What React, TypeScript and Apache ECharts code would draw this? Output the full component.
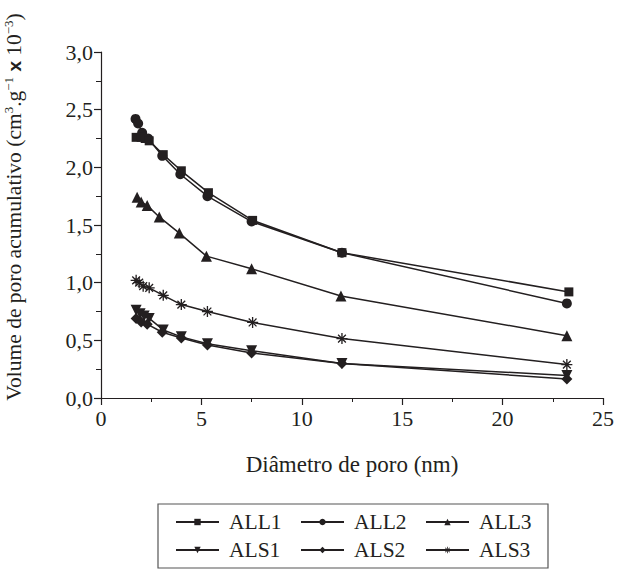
import React, { useEffect, useRef } from "react";
import * as echarts from "echarts";

const xTicks = [0, 5, 10, 15, 20, 25];
const yTicks = [0, 0.5, 1.0, 1.5, 2.0, 2.5, 3.0];

const legendRow1 = ["ALL1", "ALL2", "ALL3"];
const legendRow2 = ["ALS1", "ALS2", "ALS3"];

const all1X = [1.75, 2.0, 2.2, 2.4, 3.1, 4.0, 5.35, 7.55, 12.0, 23.3];
const all1Y = [2.26, 2.26, 2.25, 2.23, 2.11, 1.97, 1.78, 1.54, 1.26, 0.92];

const all2X = [1.72, 1.85, 2.05, 2.35, 3.05, 3.95, 5.3, 7.5, 12.0, 23.2];
const all2Y = [2.42, 2.38, 2.3, 2.25, 2.1, 1.94, 1.75, 1.53, 1.26, 0.82];

const all3X = [1.8, 2.0, 2.3, 2.9, 3.9, 5.25, 7.5, 11.95, 23.2];
const all3Y = [1.74, 1.7, 1.67, 1.57, 1.43, 1.23, 1.12, 0.885, 0.54];

const als1X = [1.75, 1.95, 2.15, 2.4, 3.1, 4.0, 5.3, 7.5, 12.0, 23.2];
const als1Y = [0.76, 0.73, 0.71, 0.69, 0.59, 0.53, 0.47, 0.41, 0.3, 0.195];

const als2X = [1.75, 2.0, 2.3, 3.05, 4.0, 5.3, 7.5, 12.0, 23.2];
const als2Y = [0.69, 0.66, 0.64, 0.57, 0.52, 0.46, 0.39, 0.3, 0.165];

const als3X = [1.75, 1.9, 2.1, 2.4, 3.1, 4.0, 5.3, 7.55, 12.0, 23.2];
const als3Y = [1.02, 1.0, 0.97, 0.955, 0.89, 0.81, 0.75, 0.655, 0.515, 0.29];

const FONT = "'Liberation Serif', 'DejaVu Serif', serif";
const INK = "#231f20";

const STAR =
  "path://M-5,-0.6L5,-0.6L5,0.6L-5,0.6Z M0.6,-5L0.6,5L-0.6,5L-0.6,-5Z M-3.11,-3.96L3.96,3.11L3.11,3.96L-3.96,-3.11Z M-3.96,3.11L3.11,-3.96L3.96,-3.11L-3.11,3.96Z";

const zip = (xs: number[], ys: number[]) => xs.map((x, i) => [x, ys[i]]);

export default function App() {
  const ref = useRef<HTMLDivElement>(null);

  useEffect(() => {
    document.body.style.margin = "0";
    if (!ref.current) return;
    const chart = echarts.init(ref.current, undefined, { renderer: "svg" });

    const fmt = (v: number) => v.toFixed(1).replace(".", ",");

    const mk = (
      name: string,
      xs: number[],
      ys: number[],
      symbol: string,
      size: number,
      rotate = 0,
      z = 2
    ) => ({
      name,
      type: "line",
      data: zip(xs, ys),
      symbol,
      symbolSize: size,
      symbolRotate: rotate,
      showSymbol: true,
      z,
      lineStyle: { color: INK, width: 1.5 },
      itemStyle: { color: INK, borderWidth: 0 },
      emphasis: { disabled: true },
    });

    const legendBase = {
      left: 175,
      padding: 0,
      itemWidth: 43,
      itemHeight: 8,
      itemGap: 9,
      textStyle: {
        fontFamily: FONT,
        fontSize: 21.5,
        color: INK,
        width: 62,
        lineHeight: 24,
        padding: [0, 0, 0, 5],
      },
    };

    chart.setOption({
      animation: false,
      grid: { left: 101, right: 13, top: 52, bottom: 187 },
      xAxis: {
        type: "value",
        min: 0,
        max: 25,
        interval: 5,
        name: "Diâmetro de poro (nm)",
        nameLocation: "middle",
        nameGap: 55,
        nameTextStyle: { fontFamily: FONT, fontSize: 23, color: INK },
        axisLine: { show: true, onZero: false, lineStyle: { color: INK, width: 1.2 } },
        axisTick: { show: true, inside: false, length: 7, lineStyle: { color: INK, width: 1.2 } },
        minorTick: { show: true, splitNumber: 2, length: 4, lineStyle: { color: INK, width: 1 } },
        axisLabel: {
          fontFamily: FONT,
          fontSize: 22,
          color: INK,
          margin: 9,
          formatter: (v: number) => (xTicks.includes(v) ? String(v) : ""),
        },
        splitLine: { show: false },
      },
      yAxis: {
        type: "value",
        min: 0,
        max: 3,
        interval: 0.5,
        axisLine: { show: true, onZero: false, lineStyle: { color: INK, width: 1.2 } },
        axisTick: { show: true, inside: false, length: 7, lineStyle: { color: INK, width: 1.2 } },
        minorTick: { show: true, splitNumber: 2, length: 5, lineStyle: { color: INK, width: 1 } },
        axisLabel: {
          fontFamily: FONT,
          fontSize: 22,
          color: INK,
          margin: 8,
          formatter: (v: number) => (yTicks.some((t) => Math.abs(t - v) < 1e-6) ? fmt(v) : ""),
        },
        splitLine: { show: false },
      },
      legend: [
        { ...legendBase, data: legendRow1, top: 510 },
        { ...legendBase, data: legendRow2, top: 538 },
      ],
      graphic: [
        {
          type: "rect",
          shape: { x: 158, y: 504, width: 390, height: 64 },
          style: { fill: "none", stroke: "#555", lineWidth: 1.2 },
          silent: true,
        },
        {
          type: "text",
          x: 14,
          y: 207,
          rotation: Math.PI / 2,
          silent: true,
          style: {
            text:
              "{a|Volume de poro acumulativo (cm}{s|3}{a|.g}{s|−1}{b| x }{a|10}{s|−3}{a|)}",
            align: "center",
            verticalAlign: "middle",
            fill: INK,
            rich: {
              a: { fontFamily: FONT, fontSize: 21.5, fill: INK, lineHeight: 24 },
              s: {
                fontFamily: FONT,
                fontSize: 13,
                fill: INK,
                lineHeight: 13,
                verticalAlign: "top",
                padding: [0, 0, 6, 0],
              },
              b: {
                fontFamily: "'Liberation Sans', Arial, sans-serif",
                fontSize: 19,
                fontWeight: "bold",
                fill: INK,
                lineHeight: 24,
              },
            },
          },
        },
      ],
      series: [
        mk("ALL2", all2X, all2Y, "circle", 10, 0, 2),
        mk("ALL1", all1X, all1Y, "rect", 9, 0, 3),
        mk("ALL3", all3X, all3Y, "triangle", 11, 0, 2),
        mk("ALS1", als1X, als1Y, "triangle", 11, 180, 2),
        mk("ALS2", als2X, als2Y, "diamond", 11, 0, 3),
        mk("ALS3", als3X, als3Y, STAR, 11, 0, 2),
      ],
    });

    return () => chart.dispose();
  }, []);

  return <div ref={ref} style={{ width: 617, height: 585 }} />;
}
